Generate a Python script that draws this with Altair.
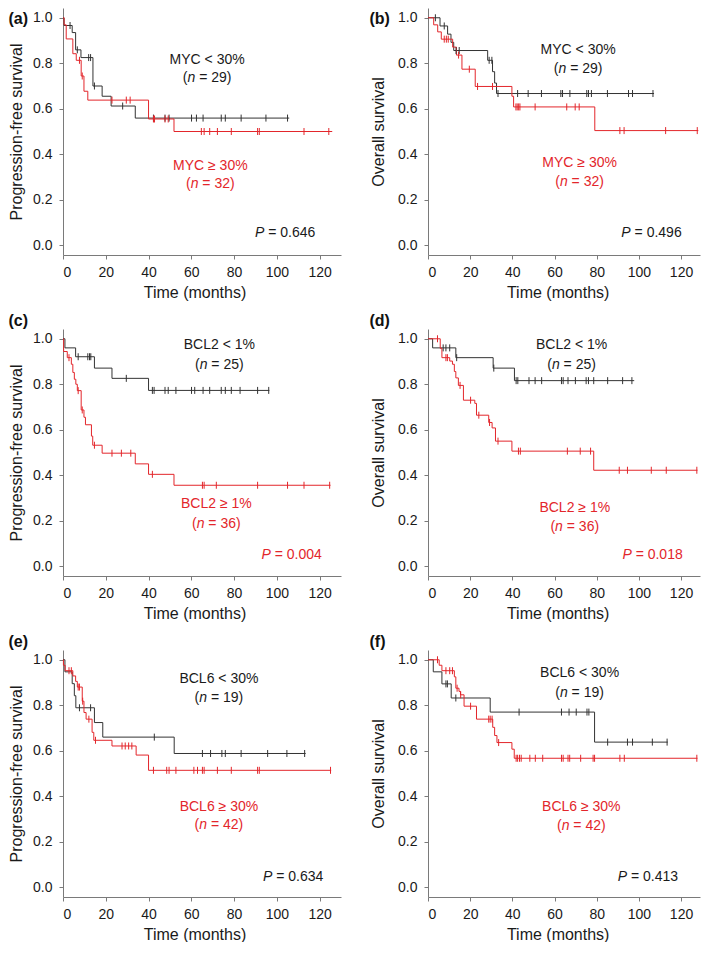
import altair as alt
import pandas as pd

FONT = "Liberation Sans, Arial, sans-serif"
BLACK = "#333333"
RED = "#e3262b"
AXIS_GRAY = "#7a7a7a"

X_TICKS = [0, 20, 40, 60, 80, 100, 120]
Y_TICKS = [0.0, 0.2, 0.4, 0.6, 0.8, 1.0]
Y_DOMAIN = [-0.043, 1.043]
X_MAX = [130, 129]
PANEL_W = [278, 272]
PANEL_H = 247

# ---------------- (a) PFS, MYC ----------------
A_LO_T = [0, 0.5, 4.3, 5.9, 8.4, 14.0, 18.3, 22.5, 33.8, 105.8]
A_LO_S = [1.0, 0.966, 0.935, 0.859, 0.825, 0.700, 0.655, 0.612, 0.559, 0.559]
A_LO_C = [3.3, 6.7, 12.0, 12.9, 14.7, 27.9, 42.3, 47.7, 49.6, 60.1, 62.4, 65.5, 74.0, 75.9, 83.3, 94.9, 105.0]
A_HI_T = [0, 0.5, 1.5, 4.6, 6.2, 8.5, 9.8, 11.6, 40.0, 51.9, 125.9]
A_HI_S = [1.0, 0.969, 0.907, 0.842, 0.813, 0.744, 0.677, 0.638, 0.555, 0.500, 0.500]
A_HI_C = [7.7, 9.0, 22.9, 29.6, 31.4, 42.3, 42.8, 47.7, 49.2, 64.7, 66.0, 68.6, 72.2, 78.7, 91.0, 91.8, 112.7, 124.3]

# ---------------- (b) OS, MYC ----------------
B_LO_T = [0, 5.7, 9.3, 10.9, 12.2, 28.3, 30.6, 31.6, 32.5, 107.2]
B_LO_S = [1.0, 0.964, 0.928, 0.892, 0.856, 0.813, 0.763, 0.713, 0.667, 0.667]
B_LO_C = [3.5, 7.7, 13.3, 14.8, 29.0, 30.3, 33.2, 42.5, 47.5, 53.8, 63.0, 63.8, 67.3, 75.3, 76.1, 77.5, 85.1, 95.1, 97.0, 106.7]
B_HI_T = [0, 2.7, 4.6, 6.3, 11.7, 13.5, 16.1, 22.4, 39.8, 40.6, 79.1, 128.2]
B_HI_S = [1.0, 0.969, 0.938, 0.906, 0.871, 0.836, 0.774, 0.698, 0.655, 0.608, 0.504, 0.504]
B_HI_C = [7.7, 8.7, 9.6, 14.5, 19.6, 23.5, 30.6, 41.7, 42.3, 43.0, 43.6, 50.8, 65.8, 69.8, 71.7, 91.0, 93.0, 112.7, 127.7]

# ---------------- (c) PFS, BCL2 ----------------
C_LO_T = [0, 0.9, 5.9, 14.7, 22.9, 40.0, 96.5]
C_LO_S = [1.0, 0.960, 0.921, 0.871, 0.826, 0.773, 0.773]
C_LO_C = [7.1, 11.6, 12.4, 13.0, 29.6, 41.8, 42.6, 47.7, 49.2, 52.8, 60.1, 61.6, 65.5, 68.6, 74.0, 75.9, 78.7, 82.8, 91.0, 96.2]
C_HI_T = [0, 0.3, 2.0, 3.9, 4.6, 5.3, 6.0, 6.7, 8.5, 9.8, 10.5, 13.3, 13.9, 18.3, 33.8, 40.0, 51.9, 125.1]
C_HI_S = [1.0, 0.944, 0.917, 0.888, 0.852, 0.822, 0.800, 0.772, 0.687, 0.655, 0.622, 0.572, 0.532, 0.497, 0.450, 0.404, 0.356, 0.356]
C_HI_C = [2.8, 7.1, 9.0, 14.7, 22.9, 27.3, 31.7, 41.8, 65.2, 66.0, 71.7, 91.0, 105.0, 112.7, 124.7]

# ---------------- (d) OS, BCL2 ----------------
D_LO_T = [0, 2.2, 13.2, 30.9, 41.0, 97.8]
D_LO_S = [1.0, 0.960, 0.917, 0.871, 0.816, 0.816]
D_LO_C = [7.2, 8.5, 10.3, 13.6, 31.2, 41.8, 42.6, 47.9, 50.8, 53.9, 63.3, 64.1, 66.4, 69.9, 75.0, 76.1, 78.6, 85.2, 92.3, 96.7]
D_HI_T = [0, 5.8, 6.6, 10.3, 11.6, 12.5, 13.2, 14.4, 16.8, 22.2, 23.0, 28.8, 30.4, 32.0, 39.8, 78.6, 127.8]
D_HI_S = [1.0, 0.958, 0.917, 0.902, 0.888, 0.856, 0.828, 0.795, 0.730, 0.716, 0.664, 0.632, 0.608, 0.550, 0.506, 0.422, 0.422]
D_HI_C = [4.5, 8.5, 9.2, 15.2, 20.2, 24.1, 29.2, 33.2, 42.9, 43.8, 66.1, 72.2, 77.1, 90.7, 94.6, 105.9, 113.0, 127.5]

# ---------------- (e) PFS, BCL6 ----------------
E_LO_T = [0, 0.9, 4.3, 5.3, 6.0, 14.7, 18.6, 52.0, 113.5]
E_LO_S = [1.0, 0.947, 0.895, 0.842, 0.789, 0.724, 0.660, 0.588, 0.588]
E_LO_C = [7.7, 12.9, 42.7, 65.2, 69.0, 74.3, 75.9, 83.3, 95.7, 104.7, 113.0]
E_HI_T = [0, 0.2, 1.0, 4.6, 5.9, 6.7, 9.0, 9.8, 10.8, 13.6, 14.4, 22.9, 34.2, 40.0, 125.4]
E_HI_S = [1.0, 0.976, 0.952, 0.929, 0.905, 0.880, 0.818, 0.768, 0.739, 0.681, 0.646, 0.621, 0.581, 0.514, 0.514]
E_HI_C = [2.8, 3.9, 7.1, 7.7, 9.2, 12.1, 15.2, 27.6, 29.1, 30.7, 32.2, 42.3, 48.5, 49.6, 52.8, 61.2, 62.9, 65.2, 66.0, 72.2, 78.7, 91.0, 91.8, 125.1]

# ---------------- (f) OS, BCL6 ----------------
F_LO_T = [0, 2.5, 6.6, 11.0, 29.5, 79.0, 113.7]
F_LO_S = [1.0, 0.947, 0.894, 0.832, 0.770, 0.638, 0.638]
F_LO_C = [8.5, 9.2, 13.2, 43.2, 63.3, 66.9, 70.3, 75.4, 76.3, 85.2, 94.6, 97.0, 106.4, 113.4]
F_HI_T = [0, 5.3, 6.6, 12.5, 13.2, 14.7, 15.4, 17.1, 23.0, 30.7, 31.6, 32.7, 39.8, 40.9, 127.8]
F_HI_S = [1.0, 0.976, 0.952, 0.925, 0.875, 0.861, 0.846, 0.796, 0.739, 0.703, 0.667, 0.636, 0.607, 0.567, 0.567]
F_HI_C = [4.5, 8.5, 10.3, 11.6, 13.8, 15.5, 20.2, 28.8, 29.5, 30.4, 33.5, 41.8, 42.5, 43.4, 44.2, 48.3, 50.9, 54.4,
          63.3, 64.1, 66.4, 67.2, 72.4, 78.3, 79.0, 91.0, 93.1, 127.5]

PANELS = [
    dict(letter="(a)", col=0, ytitle="Progression-free survival",
         lo=(A_LO_T, A_LO_S, A_LO_C), hi=(A_HI_T, A_HI_S, A_HI_C),
         lo_lab="MYC < 30%", hi_lab="MYC \u2265 30%", lo_n="29", hi_n="32", p="0.646", p_red=False,
         lo_xy=(67.4, 0.796, 0.716), hi_xy=(68.9, 0.329, 0.250), p_xy=(103.9, 0.037)),
    dict(letter="(b)", col=1, ytitle="Overall survival",
         lo=(B_LO_T, B_LO_S, B_LO_C), hi=(B_HI_T, B_HI_S, B_HI_C),
         lo_lab="MYC < 30%", hi_lab="MYC \u2265 30%", lo_n="29", hi_n="32", p="0.496", p_red=False,
         lo_xy=(71.2, 0.839, 0.756), hi_xy=(71.9, 0.343, 0.260), p_xy=(106.0, 0.037)),
    dict(letter="(c)", col=0, ytitle="Progression-free survival",
         lo=(C_LO_T, C_LO_S, C_LO_C), hi=(C_HI_T, C_HI_S, C_HI_C),
         lo_lab="BCL2 < 1%", hi_lab="BCL2 \u2265 1%", lo_n="25", hi_n="36", p="0.004", p_red=True,
         lo_xy=(73.1, 0.955, 0.869), hi_xy=(71.7, 0.256, 0.170), p_xy=(106.9, 0.030)),
    dict(letter="(d)", col=1, ytitle="Overall survival",
         lo=(D_LO_T, D_LO_S, D_LO_C), hi=(D_HI_T, D_HI_S, D_HI_C),
         lo_lab="BCL2 < 1%", hi_lab="BCL2 \u2265 1%", lo_n="25", hi_n="36", p="0.018", p_red=True,
         lo_xy=(68.1, 0.955, 0.869), hi_xy=(69.6, 0.238, 0.155), p_xy=(106.5, 0.030)),
    dict(letter="(e)", col=0, ytitle="Progression-free survival",
         lo=(E_LO_T, E_LO_S, E_LO_C), hi=(E_HI_T, E_HI_S, E_HI_C),
         lo_lab="BCL6 < 30%", hi_lab="BCL6 \u2265 30%", lo_n="19", hi_n="42", p="0.634", p_red=False,
         lo_xy=(72.9, 0.897, 0.813), hi_xy=(72.9, 0.337, 0.254), p_xy=(107.6, 0.029)),
    dict(letter="(f)", col=1, ytitle="Overall survival",
         lo=(F_LO_T, F_LO_S, F_LO_C), hi=(F_HI_T, F_HI_S, F_HI_C),
         lo_lab="BCL6 < 30%", hi_lab="BCL6 \u2265 30%", lo_n="19", hi_n="42", p="0.413", p_red=False,
         lo_xy=(71.9, 0.923, 0.836), hi_xy=(72.7, 0.337, 0.251), p_xy=(104.3, 0.029)),
]

# Arial / Liberation Sans advance widths (1/1000 em)
ARIAL = {" ": 278, "(": 333, ")": 333, "=": 584, ".": 278, "n": 556, "P": 667, "<": 584,
         "\u2265": 549, "%": 889, "M": 833, "Y": 667, "C": 722, "B": 667, "L": 556}
FS = 14


def tw(s):
    return sum(ARIAL.get(ch, 556) for ch in s) * FS / 1000.0


def at(ts, ss, c):
    v = ss[0]
    for t, s in zip(ts, ss):
        if t <= c:
            v = s
    return v


def build(p, idx):
    col = p["col"]
    row = idx // 2
    xs = alt.Scale(domain=[0, X_MAX[col]], nice=False, zero=False)
    ys = alt.Scale(domain=Y_DOMAIN, nice=False, zero=False)
    pxm = PANEL_W[col] / X_MAX[col]
    xax = alt.Axis(values=X_TICKS, title="Time (months)", format="d", titleX=61.5 * pxm)
    yax = alt.Axis(values=Y_TICKS, title=p["ytitle"], format=".1f",
                   titlePadding=8 if col == 0 else 11)

    def X():
        return alt.X("t:Q", scale=xs, axis=xax)

    def Y():
        return alt.Y("s:Q", scale=ys, axis=yax)

    layers = []
    for key, color in (("lo", BLACK), ("hi", RED)):
        ts, ss, cs = p[key]
        df = pd.DataFrame({"t": ts, "s": ss})
        layers.append(alt.Chart(df).mark_line(interpolate="step-after", strokeWidth=1, color=color)
                      .encode(x=X(), y=Y()))
    for key, color in (("lo", BLACK), ("hi", RED)):
        ts, ss, cs = p[key]
        dc = pd.DataFrame({"t": cs, "s": [at(ts, ss, c) for c in cs]})
        layers.append(alt.Chart(dc).mark_point(shape="M0,-1L0,1", size=49, filled=False,
                                               strokeWidth=1, opacity=1, color=color)
                      .encode(x=X(), y=Y()))

    def text_parts(parts, x, y, color):
        total = sum(tw(s) for s, _ in parts)
        off = -total / 2.0
        out = []
        df = pd.DataFrame({"t": [x], "s": [y]})
        for s, ital in parts:
            st = s.lstrip(" ")
            lead = tw(s[: len(s) - len(st)])
            out.append(alt.Chart(df).mark_text(text=st, align="left", baseline="alphabetic",
                                               dx=off + lead, font=FONT, fontSize=FS,
                                               fontStyle="italic" if ital else "normal",
                                               color=color)
                       .encode(x=X(), y=Y()))
            off += tw(s)
        return out

    lx, ly1, ly2 = p["lo_xy"]
    layers += text_parts([(p["lo_lab"], False)], lx, ly1, "#1a1a1a")
    layers += text_parts([("(", False), ("n", True), (" = " + p["lo_n"] + ")", False)], lx, ly2, "#1a1a1a")
    hx, hy1, hy2 = p["hi_xy"]
    layers += text_parts([(p["hi_lab"], False)], hx, hy1, RED)
    layers += text_parts([("(", False), ("n", True), (" = " + p["hi_n"] + ")", False)], hx, hy2, RED)
    px, py = p["p_xy"]
    layers += text_parts([("P", True), (" = " + p["p"], False)], px, py,
                         RED if p["p_red"] else "#1a1a1a")

    letter_x = -54.5 if col == 0 else -58.5
    letter_y = 16 if row == 0 else -3
    layers.append(alt.Chart(pd.DataFrame({"k": [0]})).mark_text(
        text=p["letter"], align="left", baseline="alphabetic", font=FONT, fontSize=16,
        fontWeight="bold", color="#111111").encode(x=alt.value(letter_x), y=alt.value(letter_y)))

    return alt.layer(*layers).properties(width=PANEL_W[col], height=PANEL_H)


charts = [build(p, i) for i, p in enumerate(PANELS)]

chart = alt.concat(*charts, columns=2, spacing={"row": 74, "column": 87}, bounds="flush").properties(
    padding=0
).configure_view(stroke=None).configure_axis(
    grid=False,
    labelFont=FONT, labelFontSize=14, labelColor="#1a1a1a",
    titleFont=FONT, titleFontSize=16, titleFontWeight="normal", titleColor="#1a1a1a",
    domainColor=AXIS_GRAY, tickColor=AXIS_GRAY, domainWidth=1, tickWidth=1, tickSize=4,
).configure_axisX(labelPadding=6, titlePadding=5).configure_axisY(labelPadding=7)

chart.save("out.html", embed_options={"renderer": "svg", "actions": False})
